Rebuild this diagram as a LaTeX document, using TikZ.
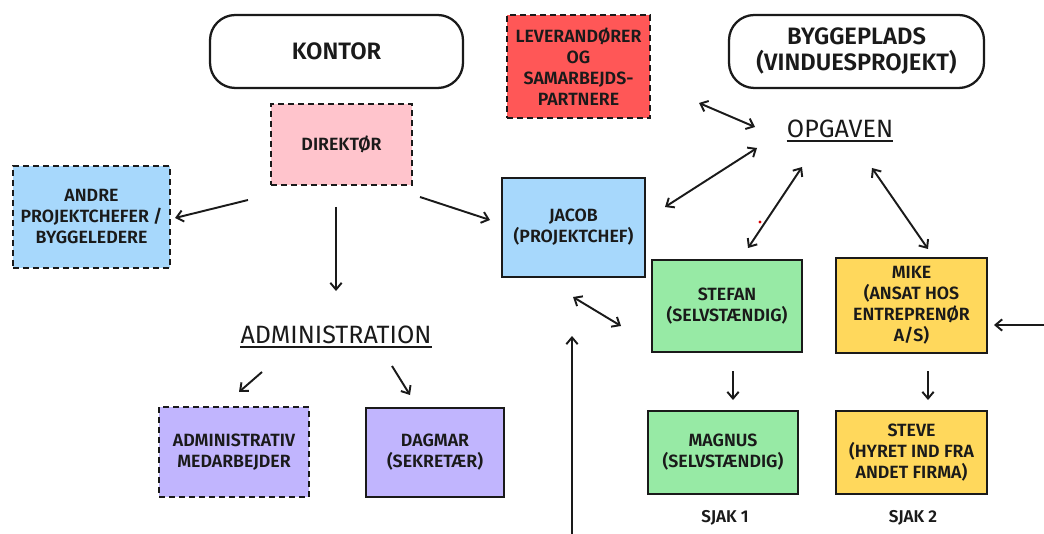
\documentclass[tikz,border=0pt]{standalone}
\usepackage{fontspec}
\setmainfont{Fira Sans}[BoldFont={Fira Sans SemiBold}]
\usetikzlibrary{arrows.meta}
\definecolor{txt}{HTML}{1A1A1A}
\definecolor{cred}{HTML}{FF5757}
\definecolor{cpink}{HTML}{FFC4CC}
\definecolor{cblue}{HTML}{A7D8FC}
\definecolor{cgreen}{HTML}{97EAA5}
\definecolor{cyellow}{HTML}{FFD85C}
\definecolor{cpurple}{HTML}{C1B5FE}
\tikzset{
  box/.style={draw=txt, line width=1.7pt, align=center, text=txt, inner sep=0pt,
    font=\bfseries\fontsize{13.3}{15.75}\selectfont},
  dashbox/.style={box, dash pattern=on 4.5pt off 3pt},
  header/.style={draw=txt, line width=1.7pt, rounded corners=19pt, align=center, text=txt,
    font=\bfseries\fontsize{17.8}{19.5}\selectfont},
  title/.style={text=txt, inner sep=0pt, font=\fontsize{18.8}{20}\selectfont},
  arr/.style={draw=txt, line width=1.45pt, -{Straight Barb[length=5pt,width=8.5pt]}},
  darr/.style={draw=txt, line width=1.45pt, {Straight Barb[length=5pt,width=8.5pt]}-{Straight Barb[length=5pt,width=8.5pt]}},
  lbl/.style={text=txt, font=\bfseries\fontsize{12.8}{14}\selectfont},
}
\begin{document}
\begin{tikzpicture}[x=0.75pt,y=-0.75pt]
\useasboundingbox (0,0) rectangle (1044,534);
\fill[white] (0,0) rectangle (1044,534);
% headers
\node[header, minimum width=189.75pt, minimum height=54.75pt] (kontor) at (336.5,51.5) {KONTOR};
\node[header, minimum width=191.25pt, minimum height=54.75pt] (bygg) at (856.5,51.5) {BYGGEPLADS\\(VINDUESPROJEKT)};
% boxes
\node[dashbox, fill=cred, minimum width=107.25pt, minimum height=77.25pt] (lev) at (578.5,66.5) {LEVERANDØRER\\OG\\SAMARBEJDS-\\PARTNERE};
\node[dashbox, fill=cpink, minimum width=105.75pt, minimum height=60.75pt] (dir) at (341.5,144.5) {DIREKTØR};
\node[dashbox, fill=cblue, minimum width=117.75pt, minimum height=76.5pt] (andre) at (91.5,217) {ANDRE\\PROJEKTCHEFER /\\BYGGELEDERE};
\node[box, fill=cblue, minimum width=107.25pt, minimum height=74.25pt] (jacob) at (573.5,227.5) {JACOB\\(PROJEKTCHEF)};
\node[box, fill=cgreen, minimum width=112.5pt, minimum height=69pt] (stefan) at (727,306) {STEFAN\\(SELVSTÆNDIG)};
\node[box, fill=cyellow, minimum width=113.25pt, minimum height=71.25pt] (mike) at (911.5,305.5) {MIKE\\(ANSAT HOS\\ENTREPRENØR\\A/S)};
\node[box, fill=cgreen, minimum width=112.5pt, minimum height=62.25pt] (magnus) at (723,452.5) {MAGNUS\\(SELVSTÆNDIG)};
\node[box, fill=cyellow, minimum width=113.25pt, minimum height=62.25pt] (steve) at (911.5,452.5) {STEVE\\(HYRET IND FRA\\ANDET FIRMA)};
\node[dashbox, fill=cpurple, minimum width=112.5pt, minimum height=67.5pt] (admmed) at (234,452) {ADMINISTRATIV\\MEDARBEJDER};
\node[box, fill=cpurple, minimum width=103.5pt, minimum height=66.75pt] (dagmar) at (435,452.5) {DAGMAR\\(SEKRETÆR)};
% titles
\node[title] (opg) at (840,129) {OPGAVEN};
\draw[txt, line width=1.8pt] ([yshift=-2.6pt]opg.base west) -- ([yshift=-2.6pt]opg.base east);
\node[title] (adm) at (336,335) {ADMINISTRATION};
\draw[txt, line width=1.8pt] ([yshift=-2.6pt]adm.base west) -- ([yshift=-2.6pt]adm.base east);
% labels
\node[lbl] (sjak1) at (725,518) {SJAK 1};
\node[lbl] (sjak2) at (913,518) {SJAK 2};
% arrow end coordinates
\coordinate (a1s) at (248,200); \coordinate (a1e) at (175,218);
\coordinate (a2s) at (336,207); \coordinate (a2e) at (336,291);
\coordinate (a3s) at (420,197); \coordinate (a3e) at (490,220);
\coordinate (a4s) at (262,372); \coordinate (a4e) at (239,392);
\coordinate (a5s) at (392,366); \coordinate (a5e) at (410,395);
\coordinate (b1s) at (699,103); \coordinate (b1e) at (755,127);
\coordinate (b2s) at (665,207); \coordinate (b2e) at (757,148);
\coordinate (b3s) at (748,248); \coordinate (b3e) at (802,167);
\coordinate (b4s) at (872,168); \coordinate (b4e) at (928,249);
\coordinate (b5s) at (573,297); \coordinate (b5e) at (621,326);
\coordinate (c1s) at (572,534); \coordinate (c1e) at (572,336);
\coordinate (c2s) at (1044,325); \coordinate (c2e) at (994,325);
\coordinate (c3s) at (733,371); \coordinate (c3e) at (733,400);
\coordinate (c4s) at (928,371); \coordinate (c4e) at (928,400);
% arrows
\draw[arr] (a1s) -- (a1e);
\draw[arr] (a2s) -- (a2e);
\draw[arr] (a3s) -- (a3e);
\draw[arr] (a4s) -- (a4e);
\draw[arr] (a5s) -- (a5e);
\draw[darr] (b1s) -- (b1e);
\draw[darr] (b2s) -- (b2e);
\draw[darr] (b3s) -- (b3e);
\draw[darr] (b4s) -- (b4e);
\draw[darr] (b5s) -- (b5e);
\draw[arr] (c1s) -- (c1e);
\draw[arr] (c2s) -- (c2e);
\draw[arr] (c3s) -- (c3e);
\draw[arr] (c4s) -- (c4e);
% stray dot
\fill[red!85!black] (760,222) circle (1.2pt);
\end{tikzpicture}
\end{document}
